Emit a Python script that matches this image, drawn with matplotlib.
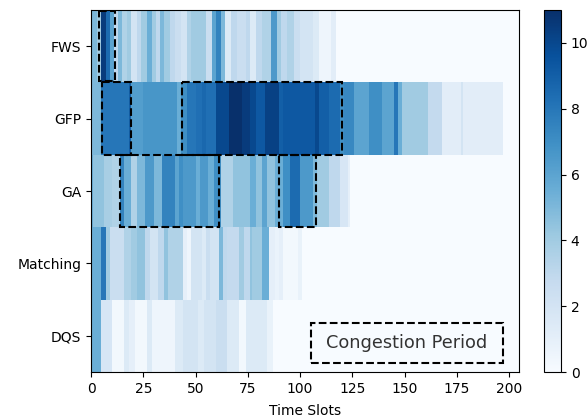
import numpy as np
import matplotlib
matplotlib.use("Agg")
from matplotlib import pyplot as plt
from matplotlib.patches import Rectangle

N_SLOTS = 205

methods = ["FWS", "GFP", "GA", "Matching", "DQS"]

# queue load per time slot, stored as runs: slot edges and the value held over each run
fws_edges = [0, 3, 5, 7, 9, 11, 13, 15, 17, 19, 22, 24, 27, 29, 31, 33, 35, 38, 40, 43,
             46, 48, 53, 55, 58, 60, 62, 64, 67, 70, 74, 76, 79, 82, 86, 89, 91, 94, 97, 100,
             106, 109, 115, 117, N_SLOTS]
fws_vals = [5, 4, 10.5, 8.5, 6, 3, 5, 3.5, 4, 2, 3, 4, 5.5, 4, 3, 5, 4, 3, 2.5, 2,
            3.5, 4, 4, 2.5, 6, 7.5, 5, 1.5, 3, 2.5, 3, 1.5, 3, 3.5, 6.5, 4, 3, 3.5, 2.5, 2,
            1.5, 0.5, 1.2, 0]

gfp_edges = [0, 5, 18, 19, 25, 41, 43, 46, 50, 53, 55, 60, 66, 72, 76, 79, 83, 90, 92, 107,
             109, 114, 119, 121, 126, 133, 139, 145, 147, 149, 161, 168, 177, 178, 197, N_SLOTS]
gfp_vals = [5, 8, 9, 6.3, 6.7, 5.5, 7, 8, 8.3, 8.6, 8.3, 10, 11, 10.5, 10, 9.3, 10.3, 9, 9.3, 10,
            9, 8.5, 7, 7.3, 6, 7, 6, 8, 5.5, 4, 2.8, 1.2, 2, 1.2, 0]

ga_edges = [0, 1, 6, 10, 14, 16, 19, 22, 26, 30, 34, 40, 42, 44, 50, 52, 56, 59, 62, 68,
            76, 79, 82, 84, 88, 92, 95, 100, 106, 108, 114, 119, 123, 124, N_SLOTS]
ga_vals = [5.5, 4.5, 3.8, 3.5, 7.5, 5.5, 3.5, 5, 6.5, 5, 7.5, 6, 7, 6.5, 5.5, 6.5, 5.5, 7, 3.5, 4.5,
           5.5, 4.5, 6, 4.5, 5.5, 7, 8.5, 6.5, 5, 4, 3, 1.8, 1, 0]

matching_edges = [0, 5, 7, 9, 16, 19, 22, 26, 28, 32, 35, 37, 44, 46, 48, 53, 55, 57, 61, 63,
                  65, 71, 73, 76, 77, 82, 85, 88, 90, 92, 99, 101, N_SLOTS]
matching_vals = [5.5, 8, 4, 2.5, 3.5, 4, 4.5, 3, 2, 3, 4.5, 3.5, 1, 0.5, 2, 1.5, 2.5, 2, 5, 3,
                 2.8, 4, 3, 4.5, 4, 5.5, 1, 0.7, 1, 0.3, 0.8, 0]

dqs_edges = [0, 5, 10, 16, 18, 21, 27, 29, 40, 44, 51, 54, 60, 65, 71, 74, 84, 87, N_SLOTS]
dqs_vals = [5.5, 1.8, 0.3, 1.5, 1, 0.3, 1.5, 0.5, 1.5, 2, 1.5, 2, 2.5, 1.5, 0.3, 1.5, 0.8, 0]

# congestion periods: (row, first slot, last slot)
congestion = [(0, 4, 11.5), (1, 5.2, 18.9), (1, 43.4, 120.3), (2, 13.7, 61.4), (2, 90, 107.5)]


def expand(edges, vals):
    return np.repeat(np.asarray(vals, dtype=float), np.diff(edges))


load = np.vstack([expand(fws_edges, fws_vals),
                  expand(gfp_edges, gfp_vals),
                  expand(ga_edges, ga_vals),
                  expand(matching_edges, matching_vals),
                  expand(dqs_edges, dqs_vals)])

fig = plt.figure(figsize=(5.88, 4.18), dpi=100)
ax = fig.add_axes([0.1548, 0.110, 0.7287, 0.866])
cax = fig.add_axes([0.9252, 0.110, 0.029, 0.866])

mesh = ax.pcolormesh(np.arange(N_SLOTS + 1), np.arange(len(methods) + 1), load,
                     cmap="Blues", vmin=0, vmax=11, shading="flat")
ax.set_xlim(0, N_SLOTS)
ax.set_ylim(len(methods), 0)
ax.set_yticks(np.arange(len(methods)) + 0.5)
ax.set_yticklabels(methods)
ax.set_xticks(np.arange(0, 201, 25))
ax.set_xlabel("Time Slots", labelpad=6)

for row, x0, x1 in congestion:
    top = row + (0.0 if row else 0.01)
    h = 0.97 if row == 0 else 1.0
    ax.add_patch(Rectangle((x0, top), x1 - x0, h, fill=False, ec="black",
                           ls="--", lw=1.5, zorder=3))

# legend box for the dashed outline
ax.add_patch(Rectangle((0.513, 0.025), 0.448, 0.11, transform=ax.transAxes,
                       fill=False, ec="black", ls="--", lw=1.5, zorder=4))
ax.text(0.737, 0.08, "Congestion Period", transform=ax.transAxes,
        ha="center", va="center", fontsize=12.8, color="#333333")

cb = fig.colorbar(mesh, cax=cax)
cb.set_ticks(np.arange(0, 11, 2))

plt.savefig("out.png", dpi=100)
